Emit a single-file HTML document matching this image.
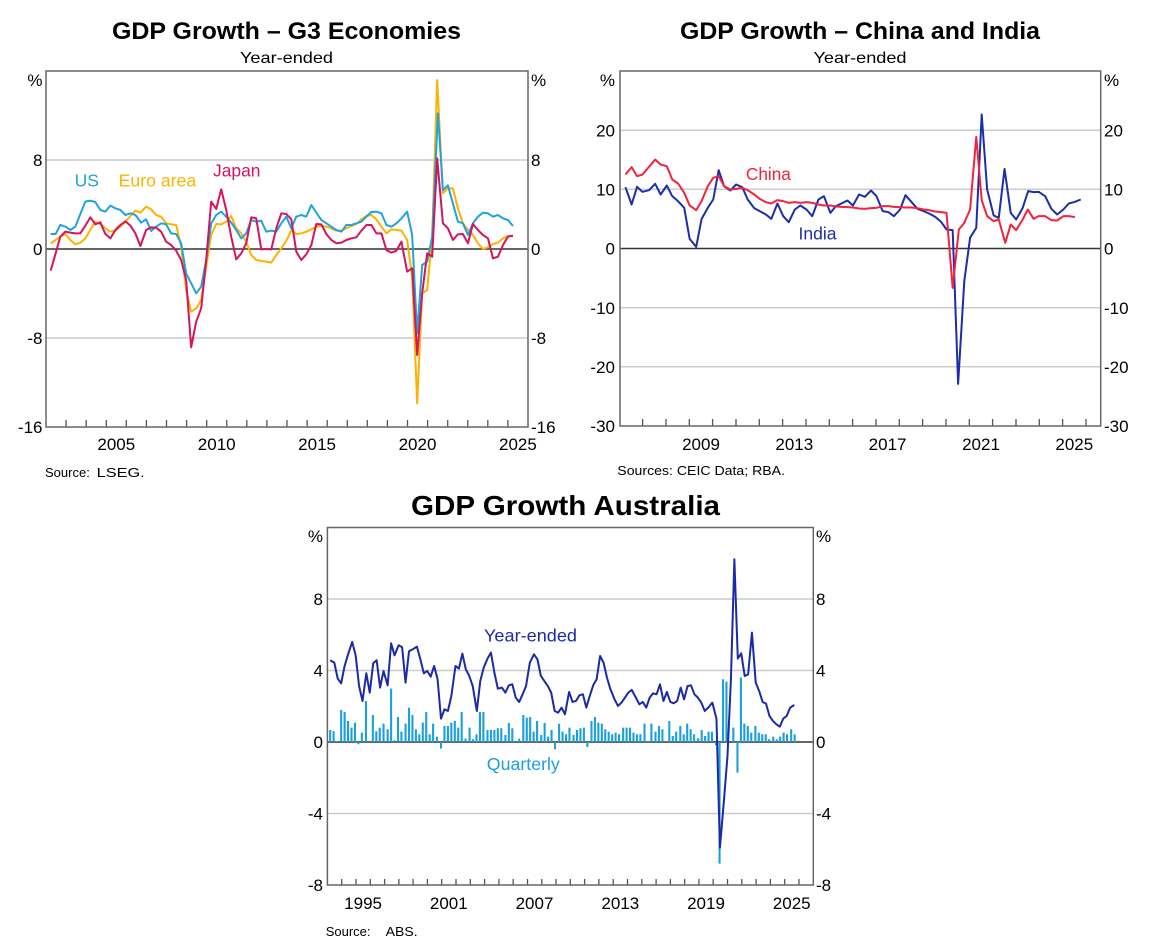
<!DOCTYPE html>
<html><head><meta charset="utf-8"><style>
html,body{margin:0;padding:0;background:#fff;}
svg{display:block;font-family:"Liberation Sans",Arial,sans-serif;}
.t{font-size:17px;fill:#000;}
.grid{stroke:#cccccc;stroke-width:1.5;fill:none;}
.zero{stroke:#333;stroke-width:1.4;}
.frame{fill:none;stroke:#666;stroke-width:1.5;}
.tick{stroke:#555;stroke-width:1.3;fill:none;}
.ln{fill:none;stroke-width:2;stroke-linejoin:round;vector-effect:non-scaling-stroke;}
</style></head><body>
<svg width="1149" height="951" viewBox="0 0 1149 951" xmlns="http://www.w3.org/2000/svg">
<rect width="1149" height="951" fill="#fff"/>

<!-- ========== CHART 1 : G3 ========== -->
<text x="286.5" y="39" font-size="24" font-weight="bold" text-anchor="middle" textLength="349" lengthAdjust="spacingAndGlyphs">GDP Growth – G3 Economies</text>
<text x="286.5" y="63" font-size="16" text-anchor="middle" textLength="93" lengthAdjust="spacingAndGlyphs">Year-ended</text>
<line class="grid" x1="46" y1="160" x2="528" y2="160"/>
<line class="grid" x1="46" y1="338" x2="528" y2="338"/>
<line class="zero" x1="46" y1="249" x2="528" y2="249"/>
<path class="tick" d="M66.1 427v-7M86.2 427v-7M106.3 427v-7M126.3 427v-7M146.4 427v-7M166.5 427v-7M186.6 427v-7M206.7 427v-7M226.8 427v-7M246.8 427v-7M266.9 427v-7M287 427v-7M307.1 427v-7M327.2 427v-7M347.3 427v-7M367.3 427v-7M387.4 427v-7M407.5 427v-7M427.6 427v-7M447.7 427v-7M467.8 427v-7M487.8 427v-7M507.9 427v-7"/>
<g transform="matrix(0.35757 0 0 0.33333 -0.484 60)">
<polyline class="ln" stroke="#ffb100" points="143,550 157,540 170,530 184,522 198,540 212,553 226,548 240,535 254,510 268,485 282,492 296,505 310,515 324,512 338,500 352,485 366,468 380,452 394,458 410,440 424,448 438,465 452,470 466,490 480,493 494,495 508,560 522,690 536,755 550,745 564,720 578,620 592,525 606,492 620,493 634,485 648,468 662,505 676,520 690,545 704,585 718,600 732,603 746,605 760,608 774,585 788,565 802,543 816,510 830,522 844,520 858,515 872,508 886,500 900,498 914,500 928,505 942,512 956,512 970,505 984,498 998,492 1012,478 1026,468 1040,465 1054,478 1068,500 1082,520 1096,508 1110,510 1124,512 1140,540 1154,650 1168,1030 1182,700 1196,690 1210,530 1224,60 1240,400 1254,385 1268,385 1282,445 1296,490 1310,510 1324,525 1338,550 1352,567 1366,562 1380,552 1394,548 1408,535 1422,528 1436,528"/>
<polyline class="ln" stroke="#1fa3dc" points="143,522 157,522 170,495 185,500 198,510 212,500 226,462 240,425 254,422 268,426 282,450 296,455 310,437 324,445 338,450 352,465 366,460 380,465 396,488 410,478 424,513 438,500 452,490 466,493 480,520 494,522 508,550 522,640 536,670 550,700 564,680 578,600 592,490 606,465 620,455 634,470 648,488 662,510 676,535 690,520 704,480 718,485 732,482 746,515 760,512 774,515 788,490 802,470 816,505 830,470 844,465 858,470 872,435 886,458 900,480 914,490 928,500 942,510 956,515 970,495 984,495 998,490 1012,485 1026,470 1040,456 1054,455 1068,460 1082,495 1096,500 1110,490 1124,475 1140,455 1154,525 1168,820 1182,615 1196,605 1210,530 1226,160 1240,390 1254,376 1268,430 1282,485 1296,490 1310,525 1324,490 1338,470 1352,458 1366,460 1380,470 1394,465 1408,475 1422,480 1436,498"/>
<polyline class="ln" stroke="#d4145e" points="143,632 157,580 170,530 184,515 198,518 212,520 226,520 240,497 254,472 268,493 282,487 296,522 310,535 324,510 338,495 352,484 366,497 380,520 394,558 410,510 424,502 438,503 452,515 466,545 480,555 494,572 508,600 522,660 536,862 550,785 564,745 578,600 592,425 606,447 620,388 634,450 648,530 662,598 676,580 690,550 704,472 718,475 732,568 746,567 760,568 774,505 788,460 802,462 816,478 830,575 844,600 858,583 872,555 886,492 900,493 914,522 928,540 942,550 956,548 970,540 984,535 998,532 1012,512 1026,495 1040,495 1054,520 1068,520 1082,570 1096,578 1110,572 1124,545 1140,635 1154,625 1168,885 1182,700 1196,580 1210,590 1224,295 1240,490 1254,505 1268,540 1282,523 1296,522 1310,550 1324,492 1338,510 1352,525 1366,535 1380,595 1394,590 1408,555 1422,530 1436,527"/>
</g>
<rect class="frame" x="46" y="71" width="482" height="356"/>
<text x="74.6" y="186.7" font-size="17.5" fill="#1fa3dc" textLength="24.3" lengthAdjust="spacingAndGlyphs">US</text>
<text x="118.6" y="186.7" font-size="17.5" fill="#ffb100" textLength="77.6" lengthAdjust="spacingAndGlyphs">Euro area</text>
<text x="213" y="176.7" font-size="17.5" fill="#d4145e" textLength="47.5" lengthAdjust="spacingAndGlyphs">Japan</text>
<g class="t" text-anchor="end">
<text x="42.5" y="86">%</text><text x="42.5" y="166">8</text><text x="42.5" y="255">0</text><text x="42.5" y="344">-8</text><text x="42.5" y="433">-16</text>
</g>
<g class="t">
<text x="531" y="86">%</text><text x="531" y="166">8</text><text x="531" y="255">0</text><text x="531" y="344">-8</text><text x="531" y="433">-16</text>
</g>
<g class="t" text-anchor="middle">
<text x="116.3" y="450">2005</text><text x="216.7" y="450">2010</text><text x="317.1" y="450">2015</text><text x="417.5" y="450">2020</text><text x="517.9" y="450">2025</text>
</g>
<text x="45" y="477" font-size="13">Source:</text>
<text x="96.7" y="477" font-size="13" textLength="48" lengthAdjust="spacingAndGlyphs">LSEG.</text>

<!-- ========== CHART 2 : China / India ========== -->
<text x="860" y="39" font-size="24" font-weight="bold" text-anchor="middle" textLength="360" lengthAdjust="spacingAndGlyphs">GDP Growth – China and India</text>
<text x="860" y="63" font-size="16" text-anchor="middle" textLength="93" lengthAdjust="spacingAndGlyphs">Year-ended</text>
<line class="grid" x1="620" y1="130.2" x2="1100.7" y2="130.2"/>
<line class="grid" x1="620" y1="189.3" x2="1100.7" y2="189.3"/>
<line class="grid" x1="620" y1="307.7" x2="1100.7" y2="307.7"/>
<line class="grid" x1="620" y1="366.8" x2="1100.7" y2="366.8"/>
<line class="zero" x1="620" y1="248.5" x2="1100.7" y2="248.5"/>
<path class="tick" d="M642.6 426v-7M666 426v-7M689.3 426v-7M712.6 426v-7M736 426v-7M759.3 426v-7M782.6 426v-7M806 426v-7M829.3 426v-7M852.6 426v-7M876 426v-7M899.3 426v-7M922.6 426v-7M946 426v-7M969.3 426v-7M992.6 426v-7M1016 426v-7M1039.3 426v-7M1062.6 426v-7M1086 426v-7"/>
<g transform="matrix(0.36279 0 0 0.33333 580.82 59.5)">
<polyline class="ln" stroke="#1c2ea8" points="123,383 140,435 155,382 170,397 188,392 205,373 220,405 237,378 252,410 268,425 285,445 300,538 318,562 333,478 350,445 365,420 380,332 395,380 412,393 428,375 445,383 460,420 478,446 493,455 510,465 525,478 542,432 558,470 573,488 590,450 605,438 622,450 638,470 655,420 670,410 688,460 703,440 718,432 735,423 750,438 767,405 783,412 800,393 815,410 832,455 848,458 863,470 880,450 895,407 912,428 928,448 945,455 960,462 977,472 993,487 1008,510 1025,512 1040,973 1057,665 1073,535 1090,505 1105,165 1120,390 1138,468 1152,475 1168,328 1185,460 1200,480 1218,445 1233,395 1248,398 1262,397 1280,410 1297,448 1313,465 1330,450 1345,432 1362,427 1378,420"/>
<polyline class="ln" stroke="#f2233c" points="123,345 140,323 155,350 170,345 188,322 205,300 220,315 237,320 252,360 268,372 285,400 300,438 318,452 333,425 350,380 365,355 380,350 395,380 412,390 428,388 445,385 460,392 478,405 493,418 510,428 525,432 542,422 558,425 573,430 590,428 605,430 622,428 638,430 655,435 670,438 688,438 703,441 718,442 735,443 750,444 767,447 783,448 800,446 815,445 832,440 848,440 863,442 880,443 895,444 912,444 928,446 945,450 960,452 977,456 993,458 1008,460 1025,685 1042,510 1057,490 1073,450 1090,232 1105,422 1120,470 1138,485 1152,480 1170,550 1185,495 1200,512 1218,480 1232,450 1248,478 1262,470 1280,470 1297,482 1313,483 1330,470 1345,470 1362,473"/>
</g>
<rect class="frame" x="620" y="71" width="480.7" height="355"/>
<text x="745.9" y="180" font-size="17.5" fill="#f2233c" textLength="45" lengthAdjust="spacingAndGlyphs">China</text>
<text x="798.5" y="239.3" font-size="17.5" fill="#1c2ea8" textLength="38" lengthAdjust="spacingAndGlyphs">India</text>
<g class="t" text-anchor="end">
<text x="615" y="86">%</text><text x="615" y="136.3">20</text><text x="615" y="195.4">10</text><text x="615" y="254.6">0</text><text x="615" y="313.8">-10</text><text x="615" y="372.9">-20</text><text x="615" y="432.1">-30</text>
</g>
<g class="t">
<text x="1104" y="86">%</text><text x="1104" y="136.3">20</text><text x="1104" y="195.4">10</text><text x="1104" y="254.6">0</text><text x="1104" y="313.8">-10</text><text x="1104" y="372.9">-20</text><text x="1104" y="432.1">-30</text>
</g>
<g class="t" text-anchor="middle">
<text x="701" y="450">2009</text><text x="794.3" y="450">2013</text><text x="887.6" y="450">2017</text><text x="981" y="450">2021</text><text x="1074.3" y="450">2025</text>
</g>
<text x="617.3" y="475" font-size="13" textLength="167.7" lengthAdjust="spacingAndGlyphs">Sources: CEIC Data; RBA.</text>

<!-- ========== CHART 3 : Australia ========== -->
<text x="565.5" y="515" font-size="28" font-weight="bold" text-anchor="middle" textLength="309" lengthAdjust="spacingAndGlyphs">GDP Growth Australia</text>
<line class="grid" x1="327.4" y1="599" x2="813.3" y2="599"/>
<line class="grid" x1="327.4" y1="670.5" x2="813.3" y2="670.5"/>
<line class="grid" x1="327.4" y1="813.5" x2="813.3" y2="813.5"/>
<line class="zero" x1="327.4" y1="742" x2="813.3" y2="742"/>
<path class="tick" d="M341.7 885v-6M356 885v-6M370.3 885v-6M384.6 885v-6M398.9 885v-6M413.1 885v-6M427.4 885v-6M441.7 885v-6M456 885v-6M470.3 885v-6M484.6 885v-6M498.9 885v-6M513.2 885v-6M527.5 885v-6M541.8 885v-6M556 885v-6M570.3 885v-6M584.6 885v-6M598.9 885v-6M613.2 885v-6M627.5 885v-6M641.8 885v-6M656.1 885v-6M670.4 885v-6M684.7 885v-6M698.9 885v-6M713.2 885v-6M727.5 885v-6M741.8 885v-6M756.1 885v-6M770.4 885v-6M784.7 885v-6M799 885v-6"/>
<g transform="matrix(0.3443 0 0 0.33333 299.86 519.3)">
<path fill="none" stroke="#1ba0dc" stroke-width="2.1" vector-effect="non-scaling-stroke" d="M88 632V668M98 636V668M108 665V668M120 572V668M130 578V668M140 605V668M150 625V668M160 610V668M170 675V668M180 640V668M192 545V668M212 587V668M222 636V668M232 625V668M243 613V668M255 630V668M265 508V668M275 663V668M285 593V668M295 637V668M307 613V668M317 565V668M327 587V668M337 630V668M347 645V668M357 610V668M367 578V668M377 645V668M387 613V668M398 652V668M410 688V668M420 620V668M430 620V668M440 610V668M450 605V668M460 625V668M470 578V668M481 658V668M493 625V668M503 660V668M513 645V668M523 578V668M533 578V668M545 632V668M555 632V668M565 632V668M575 627V668M585 627V668M597 647V668M607 611V668M617 627V668M627 665V668M637 658V668M649 587V668M659 595V668M669 593V668M679 637V668M689 605V668M701 647V668M711 611V668M721 652V668M731 632V668M741 690V668M753 613V668M763 637V668M773 645V668M783 625V668M795 647V668M805 632V668M815 627V668M825 625V668M835 683V668M847 605V668M857 593V668M867 610V668M877 613V668M887 630V668M897 637V668M907 645V668M917 640V668M927 645V668M939 625V668M949 625V668M959 625V668M969 640V668M979 645V668M989 645V668M1001 613V668M1011 665V668M1021 613V668M1033 637V668M1043 620V668M1053 630V668M1073 605V668M1083 650V668M1093 637V668M1105 620V668M1115 645V668M1125 613V668M1135 630V668M1145 645V668M1157 657V668M1167 632V668M1177 650V668M1187 637V668M1197 637V668M1209 678V668M1219 1033V668M1229 480V668M1239 487V668M1259 625V668M1271 760V668M1281 475V668M1291 613V668M1301 620V668M1311 640V668M1323 620V668M1333 640V668M1343 645V668M1353 645V668M1363 660V668M1375 652V668M1385 660V668M1395 652V668M1405 640V668M1415 645V668M1427 630V668M1437 645V668"/>
<polyline class="ln" stroke="#1b2aa6" points="88,423 100,430 110,478 120,492 130,440 140,405 152,368 162,408 172,500 182,545 193,462 203,520 213,432 223,423 233,505 243,455 255,498 265,372 275,408 287,378 297,384 307,490 317,396 328,390 340,382 350,420 360,462 370,455 380,472 390,440 400,480 410,598 420,570 430,575 440,530 452,440 462,448 472,403 482,450 492,470 502,500 514,575 524,485 534,445 545,418 555,400 565,460 575,508 587,505 597,520 607,498 617,495 627,535 637,548 647,525 657,500 668,430 680,405 690,420 700,470 710,485 720,500 730,520 740,575 750,580 760,565 770,585 782,518 792,548 802,545 812,528 822,525 832,565 842,530 852,498 862,480 872,410 882,430 892,475 902,510 914,540 924,560 934,550 944,535 954,520 964,512 976,535 986,555 996,548 1006,565 1016,535 1026,522 1036,525 1046,495 1056,545 1066,518 1076,548 1086,552 1096,545 1106,505 1116,540 1126,500 1136,498 1146,525 1156,535 1166,550 1176,575 1186,565 1198,550 1210,598 1220,985 1232,840 1242,710 1252,480 1262,120 1272,418 1282,402 1292,470 1302,465 1313,340 1324,490 1334,515 1344,548 1354,553 1364,590 1374,605 1384,615 1394,622 1404,598 1414,590 1424,565 1436,557"/>
</g>
<rect class="frame" x="327.4" y="527.5" width="485.9" height="357.5"/>
<text x="484" y="641.7" font-size="17.5" fill="#1b2aa6" textLength="93" lengthAdjust="spacingAndGlyphs">Year-ended</text>
<text x="486.8" y="770" font-size="17.5" fill="#1ba0dc" textLength="73" lengthAdjust="spacingAndGlyphs">Quarterly</text>
<g class="t" text-anchor="end">
<text x="323" y="542">%</text><text x="323" y="605">8</text><text x="323" y="676.6">4</text><text x="323" y="748">0</text><text x="323" y="819.6">-4</text><text x="323" y="891">-8</text>
</g>
<g class="t">
<text x="816" y="542">%</text><text x="816" y="605">8</text><text x="816" y="676.6">4</text><text x="816" y="748">0</text><text x="816" y="819.6">-4</text><text x="816" y="891">-8</text>
</g>
<g class="t" text-anchor="middle">
<text x="363.1" y="909">1995</text><text x="448.8" y="909">2001</text><text x="534.5" y="909">2007</text><text x="620.3" y="909">2013</text><text x="706" y="909">2019</text><text x="791.7" y="909">2025</text>
</g>
<text x="325.7" y="936" font-size="13">Source:</text>
<text x="385.7" y="936" font-size="13" textLength="32" lengthAdjust="spacingAndGlyphs">ABS.</text>
</svg>
</body></html>
